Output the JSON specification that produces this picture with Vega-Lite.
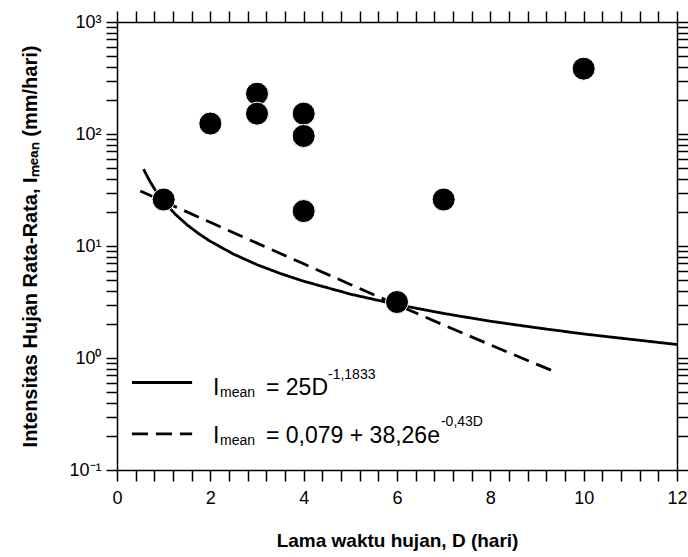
{
  "$schema": "https://vega.github.io/schema/vega-lite/v6.json",
  "width": 560,
  "height": 448,
  "autosize": {"type": "none"},
  "padding": {"left": 117, "top": 22, "right": 11, "bottom": 87},
  "background": "white",
  "config": {
    "view": {"stroke": null},
    "font": "Liberation Sans",
    "axis": {
      "domainColor": "black",
      "domainWidth": 1.5,
      "tickColor": "black",
      "tickWidth": 1.5,
      "labelColor": "black",
      "labelFont": "Liberation Sans",
      "labelFontSize": 18,
      "titleColor": "black",
      "titleFont": "Liberation Sans",
      "titleFontWeight": "bold",
      "grid": false,
      "labelOverlap": false,
      "labelFlush": false,
      "labelBound": false
    }
  },
  "datasets": {
    "titik": [
      {"D": 1, "I": 26},
      {"D": 2, "I": 124},
      {"D": 3, "I": 229},
      {"D": 3, "I": 152},
      {"D": 4, "I": 152},
      {"D": 4, "I": 96},
      {"D": 4, "I": 20.5},
      {"D": 6, "I": 3.16},
      {"D": 7, "I": 26},
      {"D": 10, "I": 383}
    ],
    "kurva": [
      {"kurva": "pangkat", "jenis": "pangkat", "D": 0.57, "I": 48.6},
      {"kurva": "pangkat", "jenis": "pangkat", "D": 0.6, "I": 45.75},
      {"kurva": "pangkat", "jenis": "pangkat", "D": 0.7, "I": 38.13},
      {"kurva": "pangkat", "jenis": "pangkat", "D": 0.8, "I": 32.55},
      {"kurva": "pangkat", "jenis": "pangkat", "D": 0.9, "I": 28.32},
      {"kurva": "pangkat", "jenis": "pangkat", "D": 1, "I": 25},
      {"kurva": "pangkat", "jenis": "pangkat", "D": 1.25, "I": 19.2},
      {"kurva": "pangkat", "jenis": "pangkat", "D": 1.5, "I": 15.47},
      {"kurva": "pangkat", "jenis": "pangkat", "D": 1.75, "I": 12.89},
      {"kurva": "pangkat", "jenis": "pangkat", "D": 2, "I": 11.01},
      {"kurva": "pangkat", "jenis": "pangkat", "D": 2.5, "I": 8.45},
      {"kurva": "pangkat", "jenis": "pangkat", "D": 3, "I": 6.81},
      {"kurva": "pangkat", "jenis": "pangkat", "D": 3.5, "I": 5.68},
      {"kurva": "pangkat", "jenis": "pangkat", "D": 4, "I": 4.85},
      {"kurva": "pangkat", "jenis": "pangkat", "D": 5, "I": 3.72},
      {"kurva": "pangkat", "jenis": "pangkat", "D": 6, "I": 3.0},
      {"kurva": "pangkat", "jenis": "pangkat", "D": 7, "I": 2.5},
      {"kurva": "pangkat", "jenis": "pangkat", "D": 8, "I": 2.13},
      {"kurva": "pangkat", "jenis": "pangkat", "D": 9, "I": 1.86},
      {"kurva": "pangkat", "jenis": "pangkat", "D": 10, "I": 1.64},
      {"kurva": "pangkat", "jenis": "pangkat", "D": 11, "I": 1.47},
      {"kurva": "pangkat", "jenis": "pangkat", "D": 12, "I": 1.32},
      {"kurva": "eksponensial", "jenis": "eksponensial", "D": 0.5, "I": 30.94},
      {"kurva": "eksponensial", "jenis": "eksponensial", "D": 1, "I": 24.97},
      {"kurva": "eksponensial", "jenis": "eksponensial", "D": 2, "I": 16.27},
      {"kurva": "eksponensial", "jenis": "eksponensial", "D": 3, "I": 10.61},
      {"kurva": "eksponensial", "jenis": "eksponensial", "D": 4, "I": 6.93},
      {"kurva": "eksponensial", "jenis": "eksponensial", "D": 5, "I": 4.54},
      {"kurva": "eksponensial", "jenis": "eksponensial", "D": 6, "I": 2.98},
      {"kurva": "eksponensial", "jenis": "eksponensial", "D": 7, "I": 1.97},
      {"kurva": "eksponensial", "jenis": "eksponensial", "D": 8, "I": 1.31},
      {"kurva": "eksponensial", "jenis": "eksponensial", "D": 9, "I": 0.877},
      {"kurva": "eksponensial", "jenis": "eksponensial", "D": 9.3, "I": 0.78},
      {"kurva": "legenda pangkat", "jenis": "pangkat", "D": 0.32, "I": 0.604},
      {"kurva": "legenda pangkat", "jenis": "pangkat", "D": 1.61, "I": 0.604},
      {"kurva": "legenda eksponensial", "jenis": "eksponensial", "D": 0.32, "I": 0.21},
      {"kurva": "legenda eksponensial", "jenis": "eksponensial", "D": 1.61, "I": 0.21}
    ],
    "teks": [
      {"peran": "utama", "teks": "I", "D": 2.057, "I": 0.472},
      {"peran": "indeks", "teks": "mean", "D": 2.207, "I": 0.444},
      {"peran": "utama", "teks": "= 25D", "D": 3.193, "I": 0.472},
      {"peran": "indeks", "teks": "-1,1833", "D": 4.521, "I": 0.643},
      {"peran": "utama", "teks": "I", "D": 2.057, "I": 0.1726},
      {"peran": "indeks", "teks": "mean", "D": 2.207, "I": 0.1656},
      {"peran": "utama", "teks": "= 0,079 + 38,26e", "D": 3.193, "I": 0.1726},
      {"peran": "indeks", "teks": "-0,43D", "D": 6.942, "I": 0.2495}
    ]
  },
  "layer": [
    {
      "data": {"name": "kurva"},
      "mark": {"type": "line", "color": "black", "strokeWidth": 2.8},
      "encoding": {
        "x": {
          "field": "D", "type": "quantitative",
          "scale": {"domain": [0, 12], "nice": false, "zero": false},
          "axis": {
            "orient": "bottom",
            "values": [0,0.4,0.8,1.2,1.6,2,2.4,2.8,3.2,3.6,4,4.4,4.8,5.2,5.6,6,6.4,6.8,7.2,7.6,8,8.4,8.8,9.2,9.6,10,10.4,10.8,11.2,11.6,12],
            "labelExpr": "abs(datum.value/2 - round(datum.value/2)) < 0.001 ? format(datum.value, 'd') : ''",
            "tickSize": 11,
            "labelPadding": 8,
            "title": "Lama waktu hujan, D (hari)",
            "titleFontSize": 19,
            "titlePadding": 24,
            "encode": {"ticks": {"update": {"y2": {"signal": "abs(datum.value/2 - round(datum.value/2)) < 0.001 ? 11 : 7"}}}}
          }
        },
        "y": {
          "field": "I", "type": "quantitative",
          "scale": {"type": "log", "domain": [0.1, 1000], "nice": false},
          "axis": {
            "orient": "left",
            "values": [0.1,0.2,0.3,0.4,0.5,0.6,0.7,0.8,0.9,1,2,3,4,5,6,7,8,9,10,20,30,40,50,60,70,80,90,100,200,300,400,500,600,700,800,900,1000],
            "labelExpr": "abs(log(datum.value)/LN10 - round(log(datum.value)/LN10)) < 0.001 ? '10' + ['⁻¹','⁰','¹','²','³'][round(log(datum.value)/LN10) + 1] : ''",
            "tickSize": 11,
            "labelPadding": 5,
            "title": "Intensitas Hujan Rata-Rata, Iₘₑₐₙ (mm/hari)",
            "titleFontSize": 20,
            "titlePadding": 28,
            "encode": {"ticks": {"update": {"x2": {"signal": "abs(log(datum.value)/LN10 - round(log(datum.value)/LN10)) < 0.001 ? -11 : -7"}}}}
          }
        },
        "detail": {"field": "kurva"},
        "strokeDash": {
          "field": "jenis", "type": "nominal",
          "scale": {"domain": ["pangkat", "eksponensial"], "range": [[1, 0], [16, 8]]},
          "legend": null
        }
      }
    },
    {
      "data": {"name": "titik"},
      "mark": {"type": "circle", "size": 530, "opacity": 1, "fill": "black", "stroke": "white", "strokeWidth": 1},
      "encoding": {
        "x": {
          "field": "D", "type": "quantitative",
          "axis": {
            "orient": "top",
            "values": [0,0.4,0.8,1.2,1.6,2,2.4,2.8,3.2,3.6,4,4.4,4.8,5.2,5.6,6,6.4,6.8,7.2,7.6,8,8.4,8.8,9.2,9.6,10,10.4,10.8,11.2,11.6,12],
            "labels": false,
            "title": null,
            "tickSize": 11,
            "encode": {"ticks": {"update": {"y2": {"signal": "abs(datum.value/2 - round(datum.value/2)) < 0.001 ? 11 : 7"}}}}
          }
        },
        "y": {
          "field": "I", "type": "quantitative",
          "axis": {
            "orient": "right",
            "values": [0.1,0.2,0.3,0.4,0.5,0.6,0.7,0.8,0.9,1,2,3,4,5,6,7,8,9,10,20,30,40,50,60,70,80,90,100,200,300,400,500,600,700,800,900,1000],
            "labels": false,
            "title": null,
            "tickSize": 11,
            "encode": {"ticks": {"update": {"x2": {"signal": "abs(log(datum.value)/LN10 - round(log(datum.value)/LN10)) < 0.001 ? -11 : -7"}}}}
          }
        }
      }
    },
    {
      "data": {"name": "teks"},
      "transform": [{"filter": "datum.peran == 'utama'"}],
      "mark": {"type": "text", "align": "left", "baseline": "alphabetic", "fontSize": 23, "font": "Liberation Sans", "color": "black"},
      "encoding": {
        "x": {"field": "D", "type": "quantitative", "axis": null},
        "y": {"field": "I", "type": "quantitative", "axis": null},
        "text": {"field": "teks"}
      }
    },
    {
      "data": {"name": "teks"},
      "transform": [{"filter": "datum.peran == 'indeks'"}],
      "mark": {"type": "text", "align": "left", "baseline": "alphabetic", "fontSize": 14, "font": "Liberation Sans", "color": "black"},
      "encoding": {
        "x": {"field": "D", "type": "quantitative", "axis": null},
        "y": {"field": "I", "type": "quantitative", "axis": null},
        "text": {"field": "teks"}
      }
    }
  ],
  "resolve": {"axis": {"x": "independent", "y": "independent"}}
}
